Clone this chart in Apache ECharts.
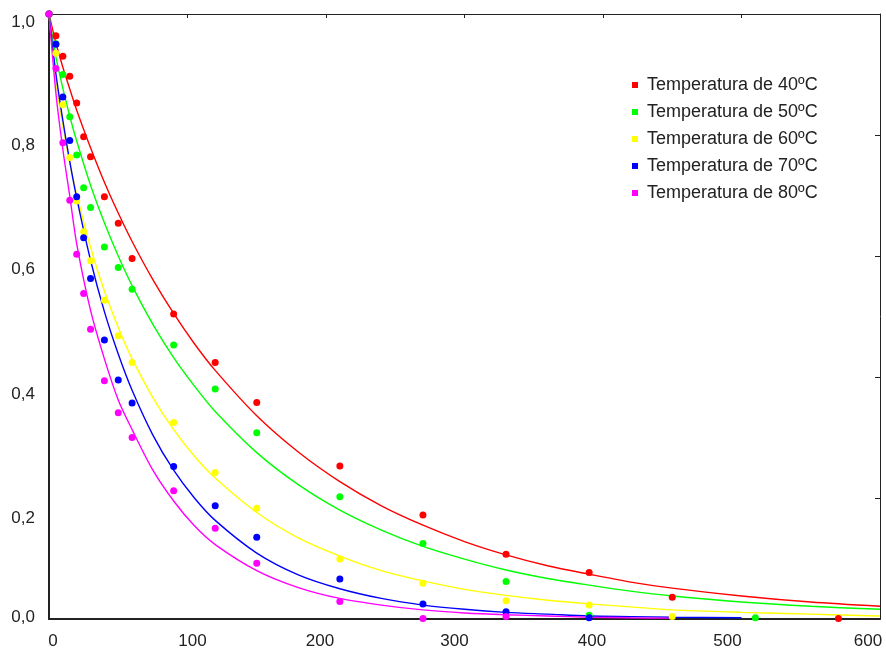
<!DOCTYPE html>
<html>
<head>
<meta charset="utf-8">
<script src="https://cdn.jsdelivr.net/npm/echarts@6/dist/echarts.min.js"></script>
<style>
  html, body { margin: 0; padding: 0; background: #fff; }
  #main { width: 886px; height: 655px; }
</style>
</head>
<body>
<div id="main"></div>
<script>
// measured points (time, moisture ratio); null = no point at that time
var pointTimes = [0, 5, 10, 15, 20, 25, 30, 40, 50, 60, 90, 120, 150, 210, 270, 330, 390, 450, 510, 570];
var points40 = [1.0, 0.964, 0.930, 0.897, 0.853, 0.797, 0.764, 0.698, 0.654, 0.596, 0.504, 0.424, 0.358, 0.253, 0.172, 0.107, 0.077, 0.036, null, 0.001];
var points50 = [1.0, 0.951, 0.900, 0.830, 0.767, 0.713, 0.680, 0.615, 0.581, 0.545, 0.453, 0.380, 0.308, 0.202, 0.125, 0.062, 0.006, null, 0.002, null];
var points60 = [1.0, 0.935, 0.850, 0.763, 0.691, 0.640, 0.592, 0.527, 0.468, 0.424, 0.325, 0.242, 0.183, 0.099, 0.059, 0.030, 0.023, 0.004, null, null];
var points70 = [1.0, 0.950, 0.863, 0.791, 0.698, 0.630, 0.563, 0.461, 0.395, 0.357, 0.252, 0.187, 0.135, 0.066, 0.025, 0.012, 0.002, null, null, null];
var points80 = [1.0, 0.910, 0.787, 0.692, 0.603, 0.538, 0.479, 0.394, 0.341, 0.300, 0.212, 0.150, 0.092, 0.029, 0.001, 0.004, null, null, null, null];

// fitted curves
var curveTimes = [0, 5, 10, 15, 20, 30, 40, 50, 60, 75, 90, 105, 120, 150, 180, 210, 240, 270, 300, 330, 360, 390, 420, 450, 500, 550, 600];
var curve40 = [1.0, 0.952, 0.912, 0.876, 0.841, 0.779, 0.722, 0.671, 0.624, 0.561, 0.505, 0.455, 0.411, 0.336, 0.276, 0.227, 0.187, 0.155, 0.128, 0.106, 0.088, 0.074, 0.061, 0.051, 0.038, 0.028, 0.021];
var curve50 = [1.0, 0.929, 0.877, 0.831, 0.790, 0.717, 0.655, 0.600, 0.551, 0.487, 0.432, 0.385, 0.343, 0.275, 0.222, 0.180, 0.147, 0.120, 0.099, 0.081, 0.067, 0.056, 0.046, 0.038, 0.028, 0.021, 0.016];
var curve60 = [1.0, 0.888, 0.815, 0.754, 0.702, 0.614, 0.542, 0.482, 0.430, 0.366, 0.313, 0.269, 0.233, 0.176, 0.134, 0.104, 0.080, 0.063, 0.049, 0.039, 0.031, 0.025, 0.020, 0.015, 0.011, 0.008, 0.005];
var curve70 = [1.0, 0.901, 0.824, 0.756, 0.696, 0.593, 0.508, 0.438, 0.378, 0.304, 0.246, 0.200, 0.163, 0.109, 0.073, 0.050, 0.034, 0.023, 0.016, 0.011, 0.008, 0.005, 0.004, 0.003, 0.002, null, null];
var curve80 = [1.0, 0.869, 0.776, 0.699, 0.620, 0.510, 0.430, 0.362, 0.313, 0.246, 0.195, 0.154, 0.123, 0.080, 0.052, 0.034, 0.023, 0.015, 0.010, 0.007, 0.005, 0.003, 0.002, 0.0015, null, null, null];

var names = ['Temperatura de 40ºC', 'Temperatura de 50ºC', 'Temperatura de 60ºC', 'Temperatura de 70ºC', 'Temperatura de 80ºC'];
var colors = ['#ff0000', '#00ff00', '#ffff00', '#0000ff', '#ff00ff'];

// label nudges (px) so labels sit where the original put them
var yShift = { 10: 8, 8: 10, 6: 13, 4: 17, 2: 20, 0: -2 };
var xShift = { 0: 4, 100: 5, 200: -6, 300: -10, 400: -11, 500: -14, 600: -12 };

var labelFont = { fontFamily: 'Liberation Sans, Arial, sans-serif', fontSize: 17, color: '#222' };

function pairs(xs, ys) {
  var out = [];
  for (var i = 0; i < xs.length; i++) {
    if (ys[i] !== null) out.push([xs[i], ys[i]]);
  }
  return out;
}

var yRich = {}, xRich = {};
Object.keys(yShift).forEach(function (k) {
  var d = yShift[k];
  yRich['y' + k] = Object.assign({ padding: d > 0 ? [2 * d, 0, 0, 0] : [0, 0, -2 * d, 0] }, labelFont);
});
Object.keys(xShift).forEach(function (k) {
  var d = xShift[k];
  xRich['x' + k] = Object.assign({ padding: d > 0 ? [0, 0, 0, 2 * d] : [0, -2 * d, 0, 0] }, labelFont);
});

var chart = echarts.init(document.getElementById('main'));

var series = [];
var allPoints = [points40, points50, points60, points70, points80];
var allCurves = [curve40, curve50, curve60, curve70, curve80];
for (var i = 0; i < 5; i++) {
  series.push({
    type: 'line',
    data: pairs(curveTimes, allCurves[i]),
    smooth: 0.3,
    showSymbol: false,
    symbol: 'none',
    lineStyle: { color: colors[i], width: 1.4 },
    z: 2,
    silent: true
  });
}
for (var j = 0; j < 5; j++) {
  series.push({
    name: names[j],
    type: 'scatter',
    data: pairs(pointTimes, allPoints[j]),
    symbol: 'circle',
    symbolSize: 7,
    itemStyle: { color: colors[j], opacity: 1 },
    z: 3
  });
}

var option = {
  backgroundColor: '#ffffff',
  animation: false,
  grid: { left: 49, right: 6, top: 14, bottom: 36 },
  legend: {
    data: names,
    orient: 'vertical',
    left: 627,
    top: 71,
    icon: 'rect',
    itemWidth: 6,
    itemHeight: 6,
    itemGap: 9,
    textStyle: {
      fontFamily: 'Liberation Sans, Arial, sans-serif',
      fontSize: 18,
      lineHeight: 18,
      color: '#222',
      padding: [0, 0, 0, 4]
    }
  },
  xAxis: [{
    type: 'value',
    min: 0,
    max: 600,
    interval: 100,
    splitLine: { show: false },
    axisLine: { onZero: false, lineStyle: { color: '#222', width: 2 } },
    axisTick: { show: false },
    axisLabel: {
      margin: 14,
      formatter: function (v) { return '{x' + v + '|' + v + '}'; },
      rich: xRich
    }
  }, {
    type: 'value',
    position: 'top',
    min: 0,
    max: 600,
    interval: 100,
    splitLine: { show: false },
    axisLine: { show: true, onZero: false, lineStyle: { color: '#222', width: 1 } },
    axisTick: { show: true, inside: true, length: 4, lineStyle: { color: '#222' } },
    axisLabel: { show: false }
  }],
  yAxis: [{
    type: 'value',
    min: 0,
    max: 1,
    interval: 0.2,
    splitLine: { show: false },
    axisLine: { show: true, onZero: false, lineStyle: { color: '#222', width: 2 } },
    axisTick: { show: false },
    axisLabel: {
      margin: 14,
      formatter: function (v) {
        var k = Math.round(v * 10);
        return '{y' + k + '|' + v.toFixed(1).replace('.', ',') + '}';
      },
      rich: yRich
    }
  }, {
    type: 'value',
    position: 'right',
    min: 0,
    max: 1,
    interval: 0.2,
    splitLine: { show: false },
    axisLine: { show: true, onZero: false, lineStyle: { color: '#222', width: 1 } },
    axisTick: { show: true, inside: true, length: 5, lineStyle: { color: '#222' } },
    axisLabel: { show: false }
  }],
  series: series
};

chart.setOption(option);
</script>
</body>
</html>
